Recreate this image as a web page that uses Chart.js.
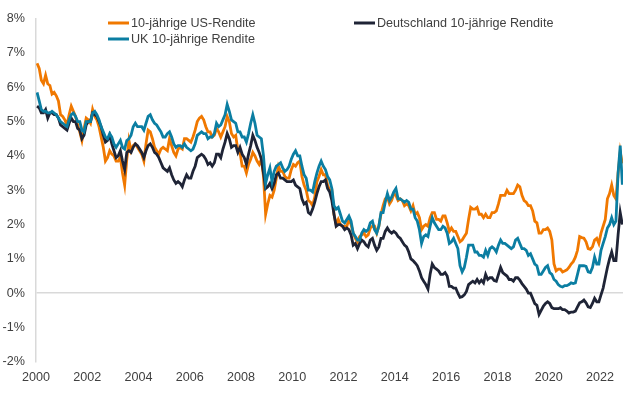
<!DOCTYPE html>
<html lang="de">
<head>
<meta charset="utf-8">
<title>Renditen 10-jähriger Staatsanleihen</title>
<script src="https://cdn.jsdelivr.net/npm/chart.js@4.4.1/dist/chart.umd.min.js"></script>
<style>
  html, body { margin: 0; padding: 0; background: #fff; }
  #wrap { width: 640px; height: 394px; position: relative; }
</style>
</head>
<body>
<div id="wrap"><canvas id="yields"></canvas></div>
<script>
// Monatswerte (Jan 2000 - Nov 2022)
const startYear = 2000;

const usYield = [
  6.70, 6.55, 6.20, 6.10, 6.35, 6.10, 6.05, 5.80, 5.85, 5.75, 5.60, 5.20, // 2000
  5.15, 5.05, 4.90, 5.20, 5.45, 5.30, 5.15, 4.90, 4.70, 4.45, 4.80, 5.10, // 2001
  5.05, 4.95, 5.35, 5.15, 5.05, 4.85, 4.55, 4.25, 3.85, 3.95, 4.15, 4.05, // 2002
  4.00, 3.85, 3.85, 3.95, 3.50, 3.15, 3.90, 4.45, 4.15, 4.30, 4.35, 4.25, // 2003
  4.15, 4.05, 3.85, 4.35, 4.75, 4.70, 4.50, 4.25, 4.15, 4.05, 4.20, 4.25, // 2004
  4.20, 4.15, 4.50, 4.30, 4.10, 4.00, 4.20, 4.25, 4.20, 4.50, 4.50, 4.45, // 2005
  4.40, 4.55, 4.75, 5.00, 5.10, 5.15, 5.05, 4.85, 4.70, 4.70, 4.55, 4.60, // 2006
  4.80, 4.70, 4.55, 4.70, 4.85, 5.15, 5.00, 4.65, 4.55, 4.60, 4.15, 4.10, // 2007
  3.70, 3.70, 3.50, 3.75, 3.90, 4.10, 4.00, 3.85, 3.75, 3.90, 3.40, 2.30, // 2008
  2.60, 2.85, 2.80, 3.00, 3.35, 3.70, 3.55, 3.55, 3.40, 3.35, 3.35, 3.60, // 2009
  3.75, 3.70, 3.80, 3.85, 3.40, 3.15, 3.00, 2.70, 2.65, 2.55, 2.80, 3.25, // 2010
  3.40, 3.60, 3.45, 3.45, 3.15, 3.00, 3.00, 2.30, 2.00, 2.15, 2.00, 1.95, // 2011
  1.95, 1.95, 2.15, 2.00, 1.75, 1.60, 1.50, 1.65, 1.70, 1.75, 1.65, 1.70, // 2012
  1.90, 1.95, 1.95, 1.75, 1.95, 2.30, 2.55, 2.75, 2.80, 2.60, 2.70, 2.90, // 2013
  2.85, 2.70, 2.75, 2.70, 2.55, 2.60, 2.55, 2.40, 2.55, 2.30, 2.35, 2.20, // 2014
  1.85, 1.95, 2.00, 1.95, 2.20, 2.35, 2.35, 2.15, 2.15, 2.10, 2.25, 2.25, // 2015
  2.05, 1.80, 1.90, 1.80, 1.80, 1.65, 1.50, 1.55, 1.65, 1.75, 2.15, 2.50, // 2016
  2.45, 2.45, 2.50, 2.30, 2.30, 2.20, 2.30, 2.20, 2.20, 2.35, 2.35, 2.40, // 2017
  2.60, 2.85, 2.85, 2.85, 3.00, 2.90, 2.90, 2.90, 3.00, 3.15, 3.10, 2.85, // 2018
  2.70, 2.65, 2.55, 2.55, 2.40, 2.10, 2.05, 1.75, 1.75, 1.85, 1.85, 1.90, // 2019
  1.80, 1.55, 0.85, 0.65, 0.70, 0.70, 0.62, 0.65, 0.68, 0.75, 0.85, 0.92, // 2020
  1.05, 1.25, 1.65, 1.62, 1.60, 1.50, 1.30, 1.28, 1.35, 1.55, 1.60, 1.45, // 2021
  1.75, 1.95, 2.15, 2.75, 2.90, 3.15, 2.85, 2.75, 3.50, 4.12, 3.78        // 2022
];

const deYield = [
  5.45, 5.40, 5.25, 5.25, 5.35, 5.10, 5.25, 5.25, 5.20, 5.20, 5.10, 4.90, // 2000
  4.85, 4.80, 4.75, 4.95, 5.10, 5.00, 5.00, 4.80, 4.75, 4.50, 4.60, 4.90, // 2001
  5.00, 5.00, 5.25, 5.20, 5.15, 5.00, 4.85, 4.60, 4.40, 4.45, 4.60, 4.35, // 2002
  4.15, 3.95, 4.00, 4.15, 3.85, 3.60, 4.10, 4.15, 4.10, 4.25, 4.35, 4.30, // 2003
  4.20, 4.10, 3.95, 4.15, 4.30, 4.35, 4.25, 4.10, 4.05, 3.95, 3.80, 3.65, // 2004
  3.60, 3.55, 3.65, 3.45, 3.30, 3.20, 3.25, 3.20, 3.10, 3.30, 3.45, 3.35, // 2005
  3.35, 3.55, 3.70, 3.95, 4.00, 4.05, 4.00, 3.90, 3.75, 3.80, 3.70, 3.80, // 2006
  4.05, 4.05, 3.95, 4.20, 4.40, 4.65, 4.50, 4.25, 4.30, 4.30, 4.10, 4.25, // 2007
  4.05, 3.95, 3.75, 4.05, 4.30, 4.60, 4.45, 4.25, 4.10, 3.90, 3.50, 3.05, // 2008
  3.10, 3.20, 3.05, 3.20, 3.45, 3.50, 3.35, 3.35, 3.30, 3.25, 3.25, 3.25, // 2009
  3.30, 3.15, 3.10, 3.05, 2.75, 2.60, 2.65, 2.35, 2.30, 2.45, 2.65, 2.90, // 2010
  3.10, 3.25, 3.25, 3.30, 3.05, 2.95, 2.70, 2.30, 1.95, 2.00, 2.00, 1.95, // 2011
  1.85, 1.90, 1.85, 1.70, 1.40, 1.45, 1.30, 1.45, 1.55, 1.50, 1.40, 1.35, // 2012
  1.55, 1.60, 1.40, 1.25, 1.35, 1.60, 1.60, 1.80, 1.90, 1.80, 1.75, 1.80, // 2013
  1.75, 1.65, 1.60, 1.50, 1.40, 1.35, 1.20, 1.00, 0.95, 0.88, 0.80, 0.65, // 2014
  0.45, 0.35, 0.25, 0.12, 0.55, 0.85, 0.75, 0.70, 0.65, 0.55, 0.55, 0.60, // 2015
  0.50, 0.20, 0.20, 0.15, 0.15, 0.00, -0.12, -0.10, -0.05, 0.05, 0.25, 0.30, // 2016
  0.35, 0.30, 0.40, 0.30, 0.38, 0.30, 0.55, 0.40, 0.45, 0.45, 0.37, 0.35, // 2017
  0.55, 0.75, 0.60, 0.55, 0.50, 0.40, 0.40, 0.35, 0.45, 0.45, 0.38, 0.28, // 2018
  0.20, 0.12, 0.00, 0.00, -0.15, -0.30, -0.35, -0.62, -0.50, -0.38, -0.30, -0.25, // 2019
  -0.30, -0.42, -0.45, -0.45, -0.45, -0.42, -0.48, -0.48, -0.52, -0.58, -0.55, -0.55, // 2020
  -0.52, -0.40, -0.28, -0.25, -0.20, -0.28, -0.40, -0.42, -0.30, -0.15, -0.25, -0.25, // 2021
  -0.05, 0.15, 0.45, 0.75, 1.00, 1.20, 0.95, 0.95, 1.70, 2.35, 2.00        // 2022
];

const ukYield = [
  5.85, 5.60, 5.35, 5.30, 5.30, 5.25, 5.25, 5.30, 5.25, 5.20, 5.10, 5.00, // 2000
  4.95, 4.90, 4.85, 5.05, 5.20, 5.25, 5.15, 5.00, 5.00, 4.75, 4.70, 5.00, // 2001
  5.00, 5.00, 5.25, 5.30, 5.20, 5.05, 4.85, 4.70, 4.55, 4.50, 4.65, 4.55, // 2002
  4.35, 4.25, 4.35, 4.45, 4.25, 4.20, 4.45, 4.50, 4.60, 4.85, 4.95, 4.85, // 2003
  4.85, 4.85, 4.75, 4.95, 5.15, 5.20, 5.05, 4.95, 4.90, 4.80, 4.70, 4.55, // 2004
  4.55, 4.65, 4.70, 4.55, 4.35, 4.25, 4.30, 4.30, 4.25, 4.35, 4.25, 4.20, // 2005
  4.15, 4.20, 4.35, 4.60, 4.65, 4.70, 4.65, 4.65, 4.50, 4.55, 4.55, 4.65, // 2006
  4.95, 4.85, 4.90, 5.05, 5.20, 5.50, 5.30, 5.05, 5.00, 4.95, 4.70, 4.70, // 2007
  4.55, 4.55, 4.40, 4.65, 4.95, 5.20, 4.95, 4.60, 4.55, 4.50, 4.00, 3.20, // 2008
  3.45, 3.65, 3.25, 3.55, 3.70, 3.75, 3.80, 3.65, 3.55, 3.60, 3.70, 3.90, // 2009
  4.05, 4.15, 4.00, 4.00, 3.70, 3.45, 3.35, 3.00, 3.00, 2.95, 3.25, 3.50, // 2010
  3.70, 3.85, 3.70, 3.60, 3.40, 3.30, 3.05, 2.55, 2.45, 2.50, 2.30, 2.10, // 2011
  2.05, 2.15, 2.25, 2.10, 1.75, 1.65, 1.55, 1.55, 1.75, 1.85, 1.80, 1.85, // 2012
  2.05, 2.10, 1.85, 1.75, 1.95, 2.35, 2.35, 2.65, 2.90, 2.70, 2.80, 2.95, // 2013
  3.05, 2.75, 2.75, 2.70, 2.65, 2.70, 2.65, 2.45, 2.45, 2.20, 2.10, 1.85, // 2014
  1.45, 1.65, 1.70, 1.65, 1.95, 2.20, 2.05, 1.95, 1.85, 1.85, 1.95, 1.90, // 2015
  1.75, 1.45, 1.50, 1.60, 1.45, 1.30, 0.80, 0.62, 0.75, 1.05, 1.40, 1.40, // 2016
  1.40, 1.20, 1.20, 1.10, 1.10, 1.05, 1.25, 1.10, 1.30, 1.35, 1.30, 1.20, // 2017
  1.40, 1.55, 1.45, 1.45, 1.40, 1.35, 1.30, 1.35, 1.55, 1.60, 1.45, 1.30, // 2018
  1.30, 1.25, 1.10, 1.15, 1.00, 0.85, 0.80, 0.55, 0.55, 0.65, 0.75, 0.80, // 2019
  0.60, 0.55, 0.40, 0.35, 0.25, 0.20, 0.18, 0.22, 0.22, 0.25, 0.30, 0.28, // 2020
  0.30, 0.55, 0.80, 0.80, 0.80, 0.78, 0.62, 0.60, 0.75, 1.05, 0.85, 0.85, // 2021
  1.25, 1.45, 1.65, 1.90, 2.00, 2.20, 2.00, 2.10, 3.50, 4.30, 3.16        // 2022
];

const seriesLabels = ['10-jährige US-Rendite', 'Deutschland 10-jährige Rendite', 'UK 10-jährige Rendite'];
const seriesColors = ['#f07800', '#1f2436', '#0b7ea2'];
const xTicks = [2000, 2002, 2004, 2006, 2008, 2010, 2012, 2014, 2016, 2018, 2020, 2022];
const yTicks = [-2, -1, 0, 1, 2, 3, 4, 5, 6, 7, 8];

const textColor = '#404040';
const fontFamily = '"Liberation Sans", Arial, sans-serif';

// Zeitachse: jeweils Monatsmitte
const toPoints = vals => vals.map((v, i) => ({ x: startYear + (i + 0.5) / 12, y: v }));

// Legende in zwei Spalten wie im Original
const legendPlugin = {
  id: 'gridLegend',
  afterDraw(chart, args, opts) {
    const ctx = chart.ctx;
    ctx.save();
    ctx.font = opts.font;
    ctx.textBaseline = 'middle';
    opts.slots.forEach((slot, i) => {
      const ds = chart.data.datasets[i];
      ctx.strokeStyle = ds.borderColor;
      ctx.lineWidth = 3;
      ctx.beginPath();
      ctx.moveTo(slot.x, slot.y);
      ctx.lineTo(slot.x + 21, slot.y);
      ctx.stroke();
      ctx.fillStyle = textColor;
      ctx.fillText(ds.label, slot.x + 23, slot.y + 0.5);
    });
    ctx.restore();
  }
};

const makeSet = (vals, i, order) => ({
  label: seriesLabels[i],
  data: toPoints(vals),
  borderColor: seriesColors[i],
  backgroundColor: seriesColors[i],
  borderWidth: 2.8,
  pointRadius: 0,
  tension: 0,
  order: order
});

new Chart(document.getElementById('yields'), {
  type: 'line',
  data: {
    datasets: [
      makeSet(usYield, 0, 3),
      makeSet(deYield, 1, 2),
      makeSet(ukYield, 2, 1)
    ]
  },
  options: {
    responsive: true,
    maintainAspectRatio: false,
    animation: false,
    layout: { padding: { top: 10, right: 17, bottom: 1, left: 0 } },
    plugins: {
      legend: { display: false },
      tooltip: { enabled: false },
      gridLegend: {
        font: '12.6px ' + fontFamily,
        slots: [{ x: 108, y: 23 }, { x: 354, y: 23 }, { x: 108, y: 39 }]
      }
    },
    scales: {
      x: {
        type: 'linear',
        min: startYear,
        max: 2022.9,
        grid: { display: false, drawTicks: false },
        border: { display: false },
        afterBuildTicks: s => { s.ticks = xTicks.map(v => ({ value: v })); },
        ticks: {
          autoSkip: false,
          maxRotation: 0,
          padding: 8,
          color: textColor,
          font: { family: fontFamily, size: 12.6 },
          callback: v => String(v)
        }
      },
      y: {
        min: yTicks[0],
        max: yTicks[yTicks.length - 1],
        afterFit: s => { s.width = 36; },
        afterBuildTicks: s => { s.ticks = yTicks.map(v => ({ value: v })); },
        grid: {
          drawTicks: false,
          color: c => (c.tick && c.tick.value === 0 ? '#d9d9d9' : 'rgba(0,0,0,0)'),
          lineWidth: 1.5
        },
        border: { color: '#d9d9d9', width: 1.5 },
        ticks: {
          padding: 11,
          color: textColor,
          font: { family: fontFamily, size: 12.6 },
          callback: v => v + '%'
        }
      }
    }
  },
  plugins: [legendPlugin]
});
</script>
</body>
</html>
